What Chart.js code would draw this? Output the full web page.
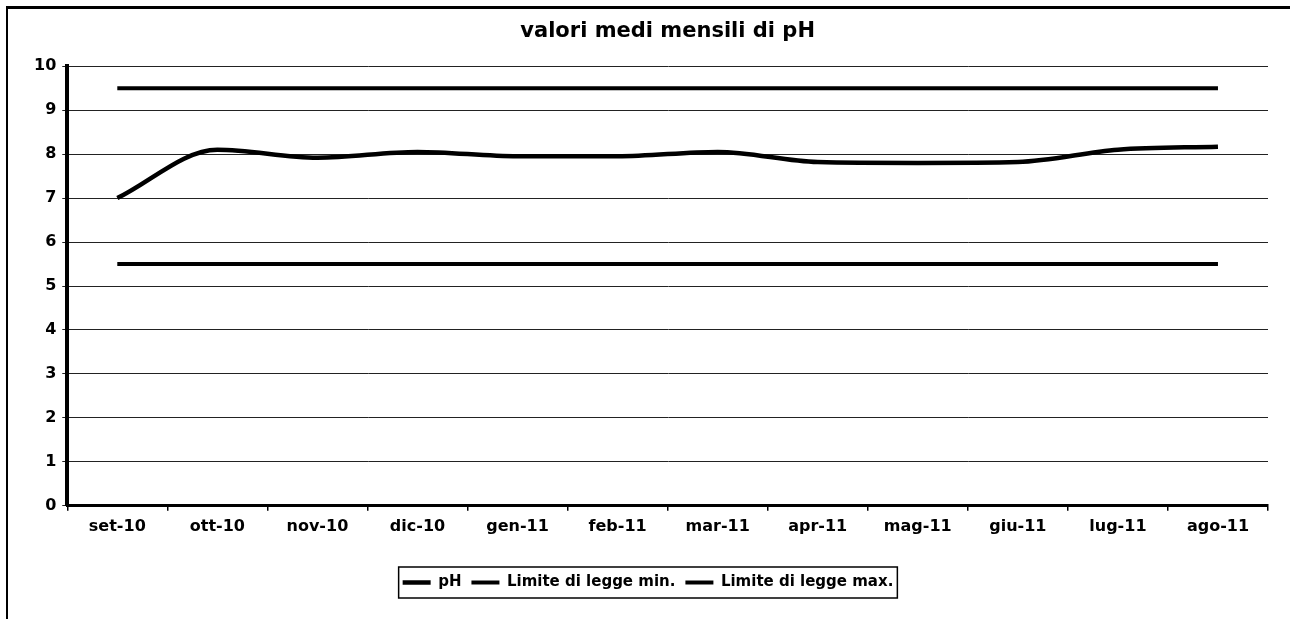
<!DOCTYPE html>
<html>
<head>
<meta charset="utf-8">
<script src="https://cdn.jsdelivr.net/npm/chart.js@4.4.0/dist/chart.umd.min.js"></script>
<style>
  html, body { margin: 0; padding: 0; background: #fff; }
  #frame { position: absolute; left: 6px; top: 6px; width: 1284px; height: 620px; border-left: 2px solid #000; border-top: 3px solid #000; box-sizing: border-box; }
  #wrap { position: absolute; left: 0; top: 0; width: 1294px; height: 619px; }
</style>
</head>
<body>
<div id="frame"></div>
<div id="wrap"><canvas id="c" width="1294" height="619"></canvas></div>
<script>
const categories = ['set-10','ott-10','nov-10','dic-10','gen-11','feb-11','mar-11','apr-11','mag-11','giu-11','lug-11','ago-11'];
const phValues = [7.0, 8.1, 7.92, 8.05, 7.95, 7.95, 8.05, 7.82, 7.8, 7.82, 8.1, 8.17];
const limitMin = [5.5, 5.5, 5.5, 5.5, 5.5, 5.5, 5.5, 5.5, 5.5, 5.5, 5.5, 5.5];
const limitMax = [9.5, 9.5, 9.5, 9.5, 9.5, 9.5, 9.5, 9.5, 9.5, 9.5, 9.5, 9.5];
const yTicks = [0,1,2,3,4,5,6,7,8,9,10];
const titleText = 'valori medi mensili di pH';
const seriesNames = ['pH', 'Limite di legge min.', 'Limite di legge max.'];

const FONT = "'DejaVu Sans', sans-serif";

const legendBox = {
  id: 'legendBox',
  afterDraw(chart) {
    const l = chart.legend;
    const boxes = l.legendHitBoxes;
    if (!boxes || !boxes.length) return;
    let x0 = Infinity, x1 = -Infinity, y0 = Infinity, y1 = -Infinity;
    boxes.forEach(b => { x0 = Math.min(x0, b.left); x1 = Math.max(x1, b.left + b.width); y0 = Math.min(y0, b.top); y1 = Math.max(y1, b.top + b.height); });
    const ctx = chart.ctx;
    ctx.save();
    ctx.strokeStyle = '#000';
    ctx.lineWidth = 1.5;
    ctx.strokeRect(x0 - 4, y0 - 8, (x1 - x0) + 8, (y1 - y0) + 16);
    ctx.restore();
  }
};

new Chart(document.getElementById('c'), {
  type: 'line',
  data: {
    labels: categories,
    datasets: [
      { label: seriesNames[0], data: phValues, borderColor: '#000', backgroundColor: '#000', borderWidth: 4.5, pointRadius: 0, cubicInterpolationMode: 'monotone' },
      { label: seriesNames[1], data: limitMin, borderColor: '#000', backgroundColor: '#000', borderWidth: 4, pointRadius: 0 },
      { label: seriesNames[2], data: limitMax, borderColor: '#000', backgroundColor: '#000', borderWidth: 4, pointRadius: 0 }
    ]
  },
  options: {
    responsive: false,
    animation: false,
    layout: { padding: { left: 28, right: 26, top: 0, bottom: 19 } },
    plugins: {
      title: { display: true, fullSize: false, text: titleText, color: '#000', font: { family: FONT, size: 21, weight: 'bold' }, padding: { top: 19, bottom: 22 } },
      legend: {
        position: 'bottom',
        labels: {
          color: '#000',
          font: { family: FONT, size: 15, weight: 'bold' },
          usePointStyle: true,
          pointStyle: 'line',
          pointStyleWidth: 28,
          padding: 10
        }
      },
      tooltip: { enabled: false }
    },
    scales: {
      x: {
        offset: true,
        afterFit(axis) { axis.height += 23; },
        grid: { offset: true, drawOnChartArea: false, drawTicks: true, tickLength: 5, color: '#000', lineWidth: 1.5 },
        border: { color: '#000', width: 3 },
        ticks: { color: '#000', font: { family: FONT, size: 16, weight: 'bold' }, padding: 6, maxRotation: 0 }
      },
      y: {
        min: 0, max: 10,
        afterBuildTicks(axis) { axis.ticks = yTicks.map(v => ({ value: v })); },
        grid: { color: '#222', lineWidth: 1, drawTicks: true, tickLength: 5 },
        border: { color: '#000', width: 4 },
        ticks: { color: '#000', font: { family: FONT, size: 16, weight: 'bold' }, padding: 6 }
      }
    }
  },
  plugins: [legendBox]
});
</script>
</body>
</html>
